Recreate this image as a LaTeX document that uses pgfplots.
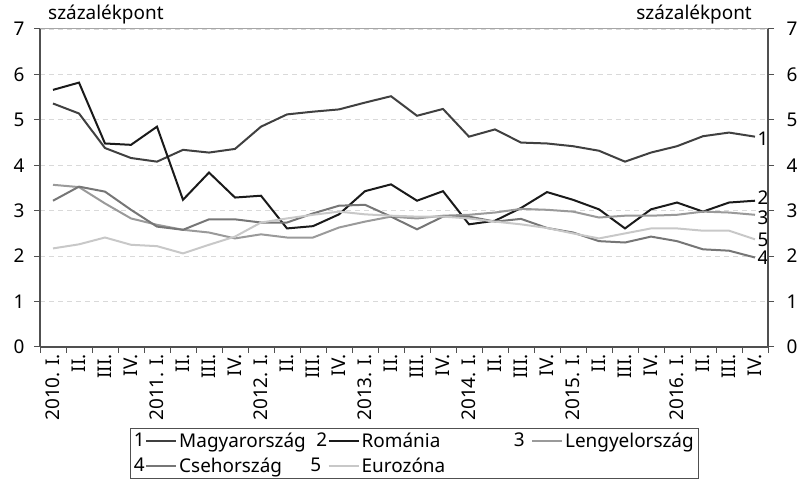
\documentclass[border=0pt]{standalone}
\usepackage{fontspec}
\setmainfont{Noto Sans}
\usepackage{pgfplots}
\usepackage{pgfplotstable}
\pgfplotsset{compat=1.18}
\definecolor{cA}{HTML}{404040}
\definecolor{cB}{HTML}{1A1A1A}
\definecolor{cC}{HTML}{9A9A9A}
\definecolor{cD}{HTML}{767676}
\definecolor{cE}{HTML}{C8C8C8}
\definecolor{axc}{HTML}{505050}
\newcommand{\tl}[1]{\textnormal{#1}}
\pgfplotsset{
  legimg/.style 2 args={legend image code/.code={%
    \node[anchor=east,inner sep=0.5bp,text=black] at (#2,0bp) {#1};
    \draw[##1] (0bp,0bp) -- (30bp,0bp);}},
}
\pgfplotstableread{
i s1 s2 s3 s4 s5
0 5.36 5.66 3.57 3.22 2.17
1 5.14 5.82 3.52 3.53 2.26
2 4.38 4.48 3.16 3.42 2.41
3 4.16 4.45 2.83 3.02 2.25
4 4.08 4.85 2.69 2.65 2.22
5 4.34 3.24 2.58 2.58 2.06
6 4.28 3.84 2.52 2.81 2.25
7 4.36 3.29 2.39 2.81 2.43
8 4.85 3.33 2.48 2.74 2.74
9 5.12 2.61 2.41 2.74 2.83
10 5.18 2.66 2.41 2.94 2.91
11 5.23 2.92 2.63 3.11 2.98
12 5.38 3.43 2.76 3.13 2.92
13 5.52 3.58 2.87 2.87 2.89
14 5.09 3.22 2.83 2.59 2.87
15 5.24 3.43 2.89 2.87 2.87
16 4.63 2.70 2.91 2.87 2.83
17 4.79 2.78 2.96 2.76 2.76
18 4.50 3.06 3.04 2.82 2.70
19 4.48 3.41 3.02 2.62 2.62
20 4.42 3.24 2.98 2.52 2.50
21 4.32 3.03 2.85 2.33 2.39
22 4.08 2.61 2.89 2.30 2.50
23 4.28 3.03 2.89 2.43 2.61
24 4.42 3.18 2.91 2.33 2.61
25 4.64 2.98 2.98 2.15 2.56
26 4.72 3.18 2.96 2.12 2.56
27 4.63 3.22 2.91 1.97 2.37
}\data
\begin{document}
\begin{tikzpicture}[font=\fontsize{19}{23}\selectfont]
\begin{axis}[
  scale only axis, width=728bp, height=318bp,
  xmin=-0.5, xmax=27.5, ymin=0, ymax=7,
  clip=false,
  axis x line*=bottom, axis y line*=left,
  axis line style={draw=axc, line width=1.3bp},
  tick align=outside,
  major tick length=6bp, minor tick length=6bp,
  xtick={0,...,27},
  xticklabels={\tl{2010. I.},\tl{II.},\tl{III.},\tl{IV.},\tl{2011. I.},\tl{II.},\tl{III.},\tl{IV.},\tl{2012. I.},\tl{II.},\tl{III.},\tl{IV.},\tl{2013. I.},\tl{II.},\tl{III.},\tl{IV.},\tl{2014. I.},\tl{II.},\tl{III.},\tl{IV.},\tl{2015. I.},\tl{II.},\tl{III.},\tl{IV.},\tl{2016. I.},\tl{II.},\tl{III.},\tl{IV.}},
  major x tick style={draw=none},
  minor xtick={-0.5,0.5,...,27.5},
  minor x tick style={draw=axc, line width=1bp},
  x tick label style={rotate=90, anchor=east, inner sep=1bp},
  ytick={0,...,7},
  y tick style={draw=axc, line width=1bp},
  y tick label style={xshift=-6bp},
  ymajorgrids,
  major y grid style={draw=black!15, line width=0.8bp, dash pattern=on 5bp off 4bp},
  /pgf/number format/assume math mode=true,
  legend columns=3,
  legend cell align=left,
  legend style={at={(axis description cs:0,0)}, anchor=north west, xshift=90bp, yshift=-81bp,
    draw=axc, line width=0.8bp, inner xsep=3bp, inner ysep=2bp, row sep=4bp,
    nodes={inner xsep=2bp, inner ysep=2.5bp},
    /tikz/column 2/.style={column sep=2bp},
    /tikz/column 4/.style={column sep=66bp}},
]
\coordinate (ll) at (rel axis cs:0,0);
\coordinate (ur) at (rel axis cs:1,1);
\addplot[cA, line width=2bp, legimg={1}{0bp}] table[x=i,y=s1]{\data};
\addlegendentry{Magyarország}
\addplot[cB, line width=2bp, legimg={2}{0bp}] table[x=i,y=s2]{\data};
\addlegendentry{Románia}
\addplot[cC, line width=2bp, legimg={3}{-6bp}] table[x=i,y=s3]{\data};
\addlegendentry{Lengyelország}
\addplot[cD, line width=2bp, legimg={4}{0bp}] table[x=i,y=s4]{\data};
\addlegendentry{Csehország}
\addplot[cE, line width=2bp, legimg={5}{-6bp}] table[x=i,y=s5]{\data};
\addlegendentry{Eurozóna}
\node[anchor=west,inner sep=1bp] at (axis cs:27.05,4.58) {1};
\node[anchor=west,inner sep=1bp] at (axis cs:27.05,3.28) {2};
\node[anchor=west,inner sep=1bp] at (axis cs:27.05,2.84) {3};
\node[anchor=west,inner sep=1bp] at (axis cs:27.05,2.36) {5};
\node[anchor=west,inner sep=1bp] at (axis cs:27.05,1.96) {4};
\end{axis}
\begin{axis}[
  scale only axis, width=728bp, height=318bp,
  xmin=-0.5, xmax=27.5, ymin=0, ymax=7,
  axis x line*=top, axis y line*=right,
  x axis line style={draw=black!35, line width=1bp},
  y axis line style={draw=axc, line width=1.3bp},
  xtick=\empty,
  tick align=outside, major tick length=6bp,
  ytick={0,...,7},
  y tick style={draw=axc, line width=1bp},
  y tick label style={xshift=9bp},
  /pgf/number format/assume math mode=true,
]
\end{axis}
\node[anchor=base west, inner sep=0pt] at ([xshift=8bp,yshift=9bp]ll |- ur) {százalékpont};
\node[anchor=base east, inner sep=0pt] at ([xshift=-16bp,yshift=9bp]ur) {százalékpont};
\pgfresetboundingbox
\useasboundingbox ([xshift=-40bp,yshift=-137bp]ll) rectangle ([xshift=40bp,yshift=29bp]ur);
\end{tikzpicture}
\end{document}
